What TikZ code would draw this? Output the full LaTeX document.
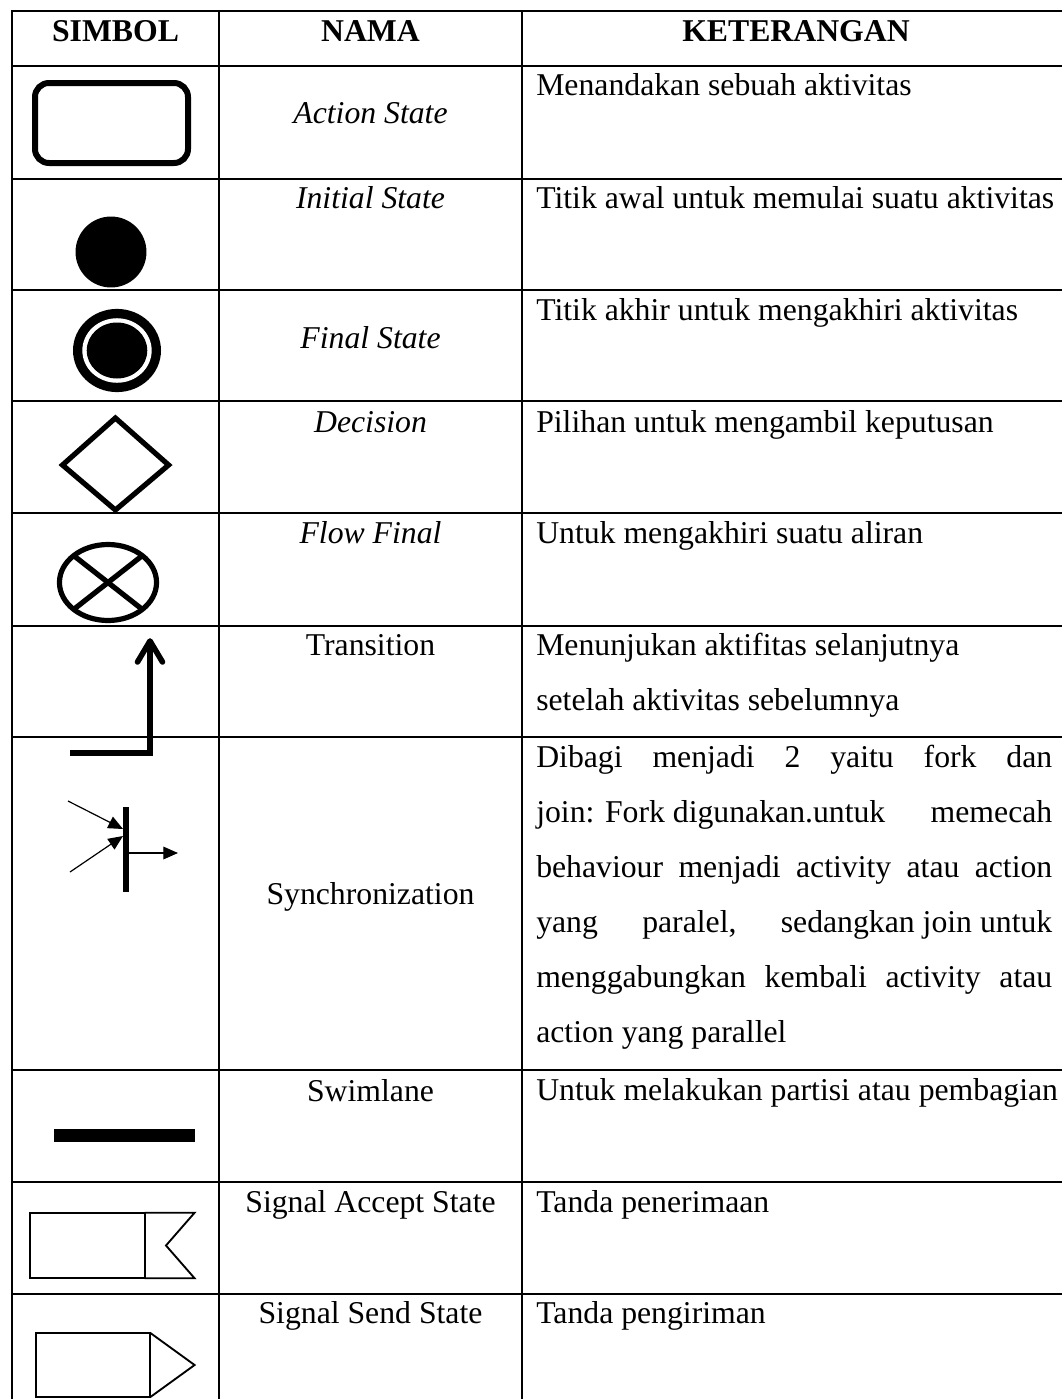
\documentclass[tikz,border=0pt]{standalone}
\usepackage{fontspec}
\setmainfont{Liberation Serif}
\usetikzlibrary{arrows.meta}
\begin{document}
\begin{tikzpicture}[x=0.75pt,y=-0.75pt,
  gridline/.style={line width=1.5pt, line cap=rect},
  txt/.style={inner sep=0pt, font=\fontsize{23.8pt}{28pt}\selectfont},
  ctext/.style={txt, anchor=base},
  ltext/.style={txt, anchor=base west},
  hd/.style={inner sep=0pt, anchor=base, font=\fontsize{23.8pt}{28pt}\selectfont\bfseries},
  thicksym/.style={line width=3.9pt},
  thinsym/.style={line width=1.4pt},
  synarrow/.style={line width=0.9pt, -{Triangle[length=11pt,width=9.5pt]}}
]
\useasboundingbox (0,0) rectangle (1062,1399);
\fill[white] (0,0) rectangle (1062,1399);

% grid
\draw[gridline] (12,1399) -- (12,11) -- (1062,11);
\draw[gridline] (219,11) -- (219,1399);
\draw[gridline] (522,11) -- (522,1399);
\foreach \yy in {66,179,290,401,513,626,737,1070,1182,1294}
  \draw[gridline] (12,\yy) -- (1062,\yy);

% header
\node[hd] (h1) at (115.5,41) {SIMBOL};
\node[hd] (h2) at (370.5,41) {NAMA};
\node[hd] (h3) at (796,41) {KETERANGAN};

% names
\node[ctext] (n1) at (370.5,123) {\itshape Action State};
\node[ctext] (n2) at (370.5,208) {\itshape Initial State};
\node[ctext] (n3) at (370.5,348) {\itshape Final State};
\node[ctext] (n4) at (370.5,432) {\itshape Decision};
\node[ctext] (n5) at (370.5,543) {\itshape Flow Final};
\node[ctext] (n6) at (370.5,655) {Transition};
\node[ctext] (n7) at (370.5,904) {Synchronization};
\node[ctext] (n8) at (370.5,1101) {Swimlane};
\node[ctext] (n9) at (370.5,1212) {Signal Accept State};
\node[ctext] (n10) at (370.5,1323) {Signal Send State};

% descriptions
\node[ltext] (k1) at (536,95) {Menandakan sebuah aktivitas};
\node[ltext] (k2) at (536,208) {Titik awal untuk memulai suatu aktivitas};
\node[ltext] (k3) at (536,320) {Titik akhir untuk mengakhiri aktivitas};
\node[ltext] (k4) at (536,432) {Pilihan untuk mengambil keputusan};
\node[ltext] (k5) at (536,543) {Untuk mengakhiri suatu aliran};
\node[ltext] (k6a) at (536,655) {Menunjukan aktifitas selanjutnya};
\node[ltext] (k6b) at (536,710) {setelah aktivitas sebelumnya};
\node[ltext] (k7a) at (536,767) {\hbox to 387pt{Dibagi\hfill menjadi\hfill 2\hfill yaitu\hfill fork\hfill dan}};
\node[ltext] (k7b) at (536,822) {\hbox to 387pt{join: Fork digunakan.untuk\hfill memecah}};
\node[ltext] (k7c) at (536,877) {\hbox to 387pt{behaviour\hfill menjadi\hfill activity\hfill atau\hfill action}};
\node[ltext] (k7d) at (536,932) {\hbox to 387pt{yang\hfill paralel,\hfill sedangkan join untuk}};
\node[ltext] (k7e) at (536,987) {\hbox to 387pt{menggabungkan\hfill kembali\hfill activity\hfill atau}};
\node[ltext] (k7f) at (536,1042) {action yang parallel};
\node[ltext] (k8) at (536,1100) {Untuk melakukan partisi atau pembagian};
\node[ltext] (k9) at (536,1212) {Tanda penerimaan};
\node[ltext] (k10) at (536,1323) {Tanda pengiriman};

% Action State
\draw[line width=4.5pt, rounded corners=10.5pt] (35,83) rectangle (188,163);

% Initial State
\fill (111,252) circle [radius=26.6pt];

% Final State
\fill (117,350.5) ellipse [x radius=33pt, y radius=31.2pt];
\fill[white] (117,350.5) ellipse [x radius=26pt, y radius=24.2pt];
\fill (117,350.5) ellipse [x radius=22.7pt, y radius=21pt];

% Decision
\draw[thicksym, line join=miter] (115.4,418) -- (168.6,465) -- (115.4,510) -- (62.5,465) -- cycle;

% Flow Final
\draw[thicksym] (108,582.5) ellipse [x radius=36.4pt, y radius=28.5pt];
\draw[thicksym] (73.7,555.6) -- (142.3,609.4);
\draw[thicksym] (142.3,555.6) -- (73.7,609.4);

% Transition
\draw[line width=4.2pt, line join=miter] (150,644) -- (150,753) -- (70,753);
\draw[line width=4.2pt, line cap=round, line join=round] (137.5,662) -- (150,641) -- (162.5,662);

% Synchronization
\draw[line width=4.9pt] (126,807) -- (126,892);
\coordinate (s1) at (68,801);
\coordinate (s1t) at (123,829);
\coordinate (s2) at (70,872);
\coordinate (s2t) at (123,836);
\coordinate (s3) at (126,853);
\coordinate (s3t) at (178,853);
\draw[synarrow] (s1) -- (s1t);
\draw[synarrow] (s2) -- (s2t);
\draw[synarrow] (s3) -- (s3t);

% Swimlane
\fill (54,1129) rectangle (195,1142);

% Signal Accept State
\draw[thinsym] (29.6,1212.7) rectangle (144.6,1278.3);
\draw[thinsym, line join=miter] (144.6,1212.7) -- (194.6,1212.7) -- (166,1245.5) -- (194.6,1278.3) -- (144.6,1278.3);

% Signal Send State
\draw[thinsym] (35.7,1332.7) rectangle (150,1397.3);
\draw[thinsym, line join=miter] (150,1332.7) -- (194.6,1365) -- (150,1397.3);
\end{tikzpicture}
\end{document}
